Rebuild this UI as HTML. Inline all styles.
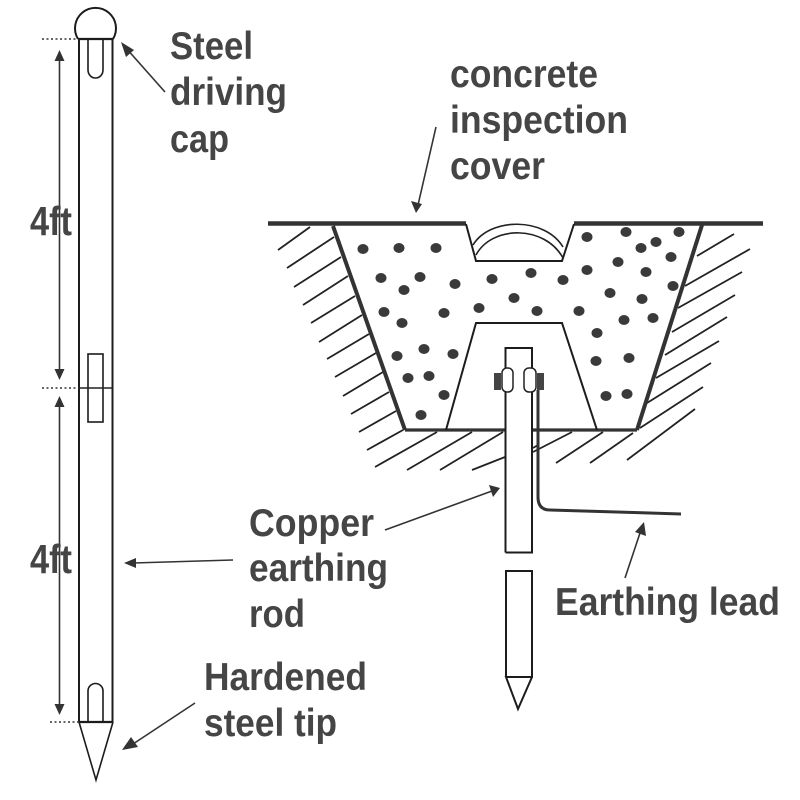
<!DOCTYPE html>
<html>
<head>
<meta charset="utf-8">
<style>
html,body{margin:0;padding:0;background:#fff}
svg{display:block;filter:blur(0.35px)}
text{font-family:"Liberation Sans",sans-serif;font-weight:bold;font-size:39px;fill:#454545}
.l{stroke:#1c1c1c;fill:none;stroke-width:2}
.h{stroke:#222;fill:none;stroke-width:1.8}
.d{stroke:#333;stroke-width:1.5;stroke-dasharray:2 2.5;fill:none}
.a{stroke:#333;stroke-width:1.6;fill:none}
.t{fill:#333;stroke:none}
</style>
</head>
<body>
<svg width="800" height="800" viewBox="0 0 800 800" xmlns="http://www.w3.org/2000/svg">
<rect width="800" height="800" fill="#fff"/>

<!-- left rod -->
<g class="l">
<path d="M79 39V722M112.500 39V722"/>
<path d="M78 39H113" stroke-width="2.200"/>
<path d="M78 39A20.500 20.500 0 1 1 113 39"/>
<path d="M88 39V70A7.500 8 0 0 0 103 70V39" stroke-width="1.600"/>
<rect x="88" y="354" width="15" height="68" stroke-width="1.600"/>
<path d="M88 722V691A7.500 7.500 0 0 1 103 691V722" stroke-width="1.600"/>
<path d="M79 722H113" stroke-width="2.200"/>
<path d="M79 722L96 780L113 722" stroke-width="1.600"/>
</g>
<path class="d" d="M42 39H78"/>
<path class="d" d="M42 388H78"/>
<path d="M78 388H112" stroke="#222" stroke-width="1.500"/>
<path class="d" d="M50 722H79"/>

<!-- dimension arrows -->
<path class="a" d="M59.500 56V374M59.500 402V709"/>
<path class="t" d="M59.500 50L54.500 61H64.500ZM59.500 380L54.500 369H64.500ZM59.500 396L54.500 407H64.500ZM59.500 715L54.500 704H64.500Z"/>

<!-- pointer arrows -->
<path class="a" d="M126 48L165 92"/>
<path class="t" d="M121 42L134 50L126 57Z"/>
<path class="a" d="M130 746L195 703"/>
<path class="t" d="M122 750L131 737L138 747Z"/>
<path class="a" d="M133 563L233 560"/>
<path class="t" d="M124 563L136 558V568Z"/>
<path class="a" d="M418 205L436 127"/>
<path class="t" d="M416 213L411 201L422 204Z"/>
<path class="a" d="M492 491L385 530"/>
<path class="t" d="M500 488L489 485L493 497Z"/>
<path class="a" d="M641 530L625 578"/>
<path class="t" d="M644 522L635 532L646 536Z"/>

<!-- hatching -->
<g class="h">
<path d="M278 250L310 227M287 268L334 237M294 287L341 257M303 305L348 276M311 323L355 296M319 342L362 315M327 359L369 334M335 377L376 353M343 396L383 372M351 414L389 392M359 432L396 411M367 450L403 430"/>
<path d="M375 467L437 432M407 470L472 432M440 470L503 432M472 470L505 457"/>
<path d="M697 256L734 234M685 286L750 249M678 308L742 272M672 332L735 295M665 355L727 317M656 378L719 341M647 403L711 363M640 428L703 387M627 460L695 409"/>
<path d="M533 452L572 432M556 463L603 432M590 463L633 433M538 445L533 448"/>
</g>

<!-- ground surface and pit -->
<path d="M268 223.500H466M574 223.500H763" stroke="#333" stroke-width="4.500" fill="none"/>
<path d="M466 224L476 261H562L574 224" class="l"/>
<path d="M333 226L405 430" stroke="#333" stroke-width="4" fill="none"/>
<path d="M702 225L637 430" stroke="#333" stroke-width="4" fill="none"/>
<path d="M405 430H505M533 430H637" stroke="#333" stroke-width="3.200" fill="none"/>
<path d="M446 430L476 323H562L597 430" class="l"/>
<path d="M473 245C490 217 545 217 563 247" stroke="#222" stroke-width="1.600" fill="none"/>
<path d="M476 255C492 225 545 225 563 258" stroke="#222" stroke-width="1.600" fill="none"/>

<!-- concrete stones -->
<g fill="#3a3a3a" stroke="none">
<ellipse cx="363" cy="249" rx="5.500" ry="5"/><ellipse cx="399" cy="248" rx="5.500" ry="5"/><ellipse cx="436" cy="248" rx="5.500" ry="5"/>
<ellipse cx="381" cy="278" rx="5.500" ry="5"/><ellipse cx="420" cy="277" rx="5.500" ry="5"/><ellipse cx="455" cy="284" rx="5.500" ry="5"/>
<ellipse cx="492" cy="279" rx="5.500" ry="5"/><ellipse cx="404" cy="290" rx="5.500" ry="5"/><ellipse cx="514" cy="298" rx="5.500" ry="5"/>
<ellipse cx="384" cy="312" rx="5.500" ry="5"/><ellipse cx="444" cy="313" rx="5.500" ry="5"/><ellipse cx="479" cy="308" rx="5.500" ry="5"/>
<ellipse cx="402" cy="323" rx="5.500" ry="5"/><ellipse cx="424" cy="349" rx="5.500" ry="5"/><ellipse cx="453" cy="354" rx="5.500" ry="5"/>
<ellipse cx="397" cy="356" rx="5.500" ry="5"/><ellipse cx="408" cy="378" rx="5.500" ry="5"/><ellipse cx="429" cy="376" rx="5.500" ry="5"/>
<ellipse cx="444" cy="395" rx="5.500" ry="5"/><ellipse cx="421" cy="415" rx="5.500" ry="5"/>
<ellipse cx="587" cy="237" rx="5.500" ry="5"/><ellipse cx="626" cy="232" rx="5.500" ry="5"/><ellipse cx="679" cy="232" rx="5.500" ry="5"/>
<ellipse cx="656" cy="242" rx="5.500" ry="5"/><ellipse cx="641" cy="248" rx="5.500" ry="5"/><ellipse cx="671" cy="257" rx="5.500" ry="5"/>
<ellipse cx="618" cy="262" rx="5.500" ry="5"/><ellipse cx="587" cy="270" rx="5.500" ry="5"/><ellipse cx="646" cy="272" rx="5.500" ry="5"/>
<ellipse cx="531" cy="273" rx="5.500" ry="5"/><ellipse cx="563" cy="280" rx="5.500" ry="5"/><ellipse cx="673" cy="286" rx="5.500" ry="5"/>
<ellipse cx="610" cy="293" rx="5.500" ry="5"/><ellipse cx="642" cy="299" rx="5.500" ry="5"/><ellipse cx="537" cy="311" rx="5.500" ry="5"/>
<ellipse cx="579" cy="311" rx="5.500" ry="5"/><ellipse cx="653" cy="318" rx="5.500" ry="5"/><ellipse cx="624" cy="320" rx="5.500" ry="5"/>
<ellipse cx="597" cy="333" rx="5.500" ry="5"/><ellipse cx="596" cy="361" rx="5.500" ry="5"/><ellipse cx="629" cy="358" rx="5.500" ry="5"/>
<ellipse cx="606" cy="396" rx="5.500" ry="5"/><ellipse cx="627" cy="394" rx="5.500" ry="5"/>
</g>

<!-- right rod -->
<path d="M505.500 552.500V348H532V552.500H505.500" class="l" fill="#fff"/>
<rect x="494" y="373" width="7" height="17" fill="#444"/>
<rect x="537" y="373" width="7" height="17" fill="#444"/>
<rect x="502" y="368" width="11" height="24" rx="5" fill="#fff" stroke="#222" stroke-width="1.500"/>
<rect x="524" y="368" width="12" height="24" rx="5" fill="#fff" stroke="#222" stroke-width="1.500"/>
<path d="M538 390V497Q538 510 550 510L681 514" stroke="#333" stroke-width="3" fill="none"/>
<path d="M506 677V571H532V677H506L518 709L532 677" class="l" stroke-width="1.800"/>

<!-- labels -->
<text x="170" y="59" textLength="83" lengthAdjust="spacingAndGlyphs">Steel</text>
<text x="170" y="105" textLength="117" lengthAdjust="spacingAndGlyphs">driving</text>
<text x="170" y="152" textLength="59" lengthAdjust="spacingAndGlyphs">cap</text>
<text x="450" y="87" textLength="148" lengthAdjust="spacingAndGlyphs">concrete</text>
<text x="450" y="133" textLength="178" lengthAdjust="spacingAndGlyphs">inspection</text>
<text x="450" y="179" textLength="95" lengthAdjust="spacingAndGlyphs">cover</text>
<text x="30" y="235" font-size="41" style="font-size:41px" textLength="42" lengthAdjust="spacingAndGlyphs">4ft</text>
<text x="30" y="573" style="font-size:41px" textLength="42" lengthAdjust="spacingAndGlyphs">4ft</text>
<text x="249" y="536" textLength="125" lengthAdjust="spacingAndGlyphs">Copper</text>
<text x="249" y="581" textLength="139" lengthAdjust="spacingAndGlyphs">earthing</text>
<text x="249" y="627" textLength="56" lengthAdjust="spacingAndGlyphs">rod</text>
<text x="204" y="690" textLength="163" lengthAdjust="spacingAndGlyphs">Hardened</text>
<text x="204" y="736" textLength="133" lengthAdjust="spacingAndGlyphs">steel tip</text>
<text x="555" y="615" textLength="225" lengthAdjust="spacingAndGlyphs">Earthing lead</text>
</svg>
</body>
</html>
